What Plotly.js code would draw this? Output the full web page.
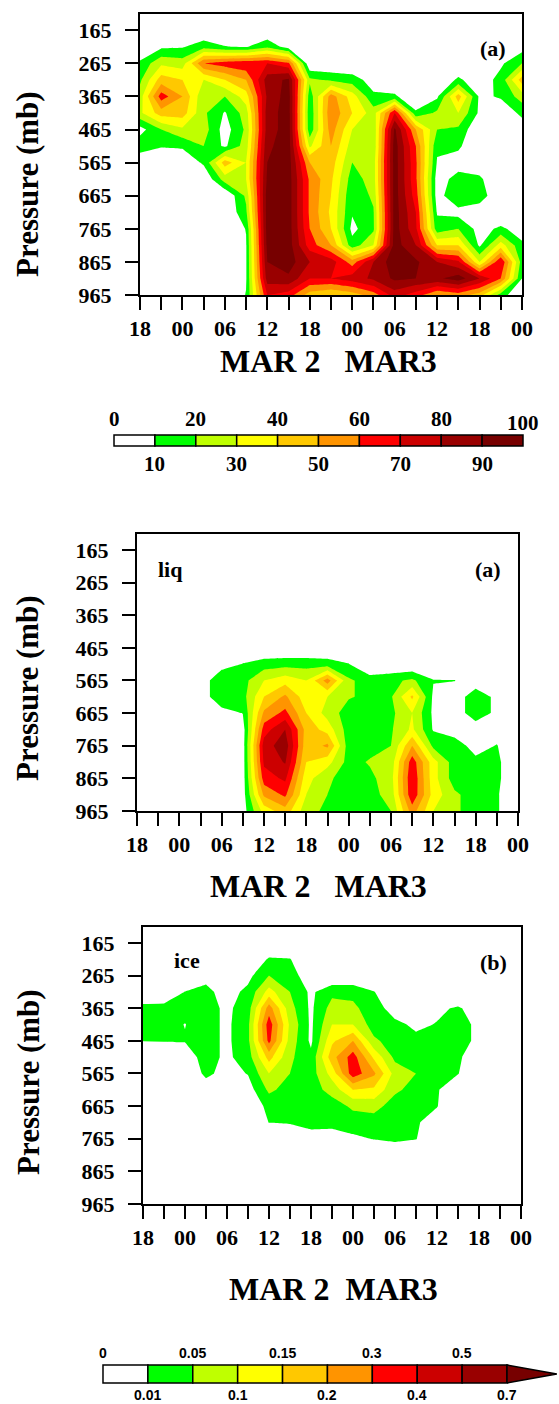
<!DOCTYPE html>
<html>
<head>
<meta charset="utf-8">
<script src="https://cdn.plot.ly/plotly-3.0.1.min.js"></script>
<style>
html,body{margin:0;padding:0;background:#fff;}
#chart{width:559px;height:1404px;}
</style>
</head>
<body>
<div id="chart"></div>
<script>
// ---------------- DATA ----------------
const hours = [0,3,6,9,12,15,18,21,24,27,30,33,36,39,42,45,48,51,54];
const timeTickText = ['18','','00','','06','','12','','18','','00','','06','','12','','18','','00'];
const pressure = [165,215,265,315,365,415,465,515,565,615,665,715,765,815,865,915,965];
const pressureTicks = [165,265,365,465,565,665,765,865,965];

const cloudLevels = [0,10,20,30,40,50,60,70,80,90,100];
const mixLevels = [0,0.01,0.05,0.1,0.15,0.2,0.3,0.4,0.5,0.7];

// cloud fraction (%), rows = pressure levels (165 -> 965), cols = hours
const cloudFraction = [
[0,0,0,0,0,0,0,0,0,0,0,0,0,0,0,0,0,0,0],
[0,8,9,16,10.5,9,18,5,0,0,0,0,0,0,0,0,0,0,5],
[12,28,25,60,65,68,70,62,0,0,0,0,0,0,0,0,0,8,20],
[18,45,40,30,40,50,85,92,22,18,15,5,0,0,0,12,3,14,45],
[25,65,50,22,20,35,82,95,14,55,35,12,12,0,8,45,8,11,25],
[28,45,45,22,9,25,85,95,12,58,40,25,70,12,22,30,8,4,12],
[6,20,28,25,5,22,85,95,13,55,30,22,92,50,20,18,0,0,5],
[17,11,12,20,8,25,88,95,28,50,25,22,95,60,12,12,0,0,0],
[0,0,0,12,45,30,90,95,50,45,20,25,95,62,9,5,3,0,0],
[0,0,0,0,25,30,92,95,58,42,15,25,95,62,5,14,12,0,0],
[0,0,0,0,0,22,95,95,58,40,12,22,95,65,5,20,16,0,0],
[0,0,0,0,0,18,95,95,58,38,11,19,95,70,9,6,3,0,0],
[0,0,0,0,0,10.5,95,95,60,40,7,18,95,72,14,20,6,12,5],
[0,0,0,0,0,9,93,95,65,50,14,30,95,80,40,40,8,35,12],
[0,0,0,0,0,9,90,95,80,75,55,80,97,92,80,72,30,70,15],
[0,0,0,0,0,9,85,88,70,70,75,82,92,90,88,95,80,60,10],
[0,0,0,0,0,10.5,70,65,45,40,45,55,75,65,50,55,45,15,0]
];

// liquid water content
const liquid = [
[0,0,0,0,0,0,0,0,0,0,0,0,0,0,0,0,0,0,0],
[0,0,0,0,0,0,0,0,0,0,0,0,0,0,0,0,0,0,0],
[0,0,0,0,0,0,0,0,0,0,0,0,0,0,0,0,0,0,0],
[0,0,0,0,0,0,0,0,0,0,0,0,0,0,0,0,0,0,0],
[0,0,0,0,0,0,0,0,0,0,0,0,0,0,0,0,0,0,0],
[0,0,0,0,0,0,0,0,0,0,0,0,0,0,0,0,0,0,0],
[0,0,0,0,0,0,0,0,0,0,0,0,0,0,0,0,0,0,0],
[0,0,0,0,0.006,0.012,0.03,0.035,0.035,0.03,0.012,0,0,0,0,0,0,0,0],
[0,0,0,0.004,0.04,0.035,0.1,0.13,0.1,0.25,0.06,0.03,0.04,0.06,0.012,0.011,0.005,0,0],
[0,0,0,0.004,0.04,0.035,0.15,0.22,0.12,0.1,0.055,0.04,0.045,0.16,0.008,0.005,0.03,0.008,0],
[0,0,0,0,0.006,0.011,0.22,0.33,0.15,0.08,0.03,0.03,0.04,0.1,0.008,0.005,0.03,0.008,0],
[0,0,0,0,0,0.005,0.35,0.5,0.18,0.13,0.03,0.03,0.045,0.11,0.009,0.005,0.005,0.005,0],
[0,0,0,0,0,0.005,0.45,0.62,0.17,0.22,0.03,0.035,0.05,0.2,0.04,0.03,0.006,0.012,0],
[0,0,0,0,0,0.005,0.42,0.52,0.15,0.12,0.035,0.055,0.07,0.36,0.12,0.03,0.02,0.02,0],
[0,0,0,0,0,0.005,0.35,0.42,0.12,0.06,0.03,0.04,0.08,0.39,0.12,0.03,0.03,0.02,0],
[0,0,0,0,0,0.005,0.22,0.32,0.1,0.05,0.035,0.035,0.07,0.38,0.13,0.06,0.03,0.015,0],
[0,0,0,0,0,0.005,0.12,0.18,0.07,0.04,0.03,0.03,0.05,0.25,0.1,0.06,0.03,0.015,0]
];

// ice water content
const ice = [
[0,0,0,0,0,0,0,0,0,0,0,0,0,0,0,0,0,0,0],
[0,0,0,0,0,0,0.015,0.012,0,0,0,0,0,0,0,0,0,0,0],
[0,0,0,0.007,0,0.007,0.05,0.03,0.003,0,0,0,0,0,0,0,0,0,0],
[0.003,0.004,0.011,0.02,0.006,0.02,0.12,0.05,0.008,0.04,0.04,0.012,0,0,0,0,0,0,0],
[0.02,0.02,0.02,0.025,0.008,0.03,0.25,0.07,0.008,0.07,0.06,0.03,0.005,0,0.008,0.015,0.005,0,0],
[0.025,0.02,0.0098,0.025,0.008,0.04,0.36,0.09,0.008,0.1,0.1,0.03,0.02,0.008,0.012,0.03,0.007,0,0],
[0.011,0.012,0.012,0.025,0.008,0.04,0.33,0.08,0.008,0.14,0.2,0.06,0.03,0.02,0.025,0.03,0.007,0,0],
[0,0,0.005,0.025,0.008,0.03,0.17,0.06,0.02,0.18,0.35,0.14,0.04,0.03,0.03,0.02,0,0,0],
[0,0,0,0.02,0.006,0.012,0.1,0.05,0.03,0.12,0.36,0.22,0.08,0.05,0.025,0.012,0,0,0],
[0,0,0,0.004,0,0.005,0.06,0.035,0.03,0.07,0.15,0.14,0.06,0.035,0.015,0,0,0,0],
[0,0,0,0,0,0,0.025,0.03,0.03,0.03,0.06,0.07,0.03,0.02,0.012,0,0,0,0],
[0,0,0,0,0,0,0.011,0.013,0.025,0.02,0.03,0.03,0.025,0.015,0.005,0,0,0,0],
[0,0,0,0,0,0,0,0.003,0.005,0.006,0.008,0.012,0.02,0.012,0,0,0,0,0],
[0,0,0,0,0,0,0,0,0,0,0,0,0,0,0,0,0,0,0],
[0,0,0,0,0,0,0,0,0,0,0,0,0,0,0,0,0,0,0],
[0,0,0,0,0,0,0,0,0,0,0,0,0,0,0,0,0,0,0],
[0,0,0,0,0,0,0,0,0,0,0,0,0,0,0,0,0,0,0]
];

// ---------------- STYLE ----------------
const palette = ['#ffffff','#00ff00','#bfff00','#ffff00','#ffc800','#ff9400','#ff0000','#cc0000','#990000','#770000'];
const colorscale = palette.map((c, i) => [i / (palette.length - 1), c]);
const serif = 'Liberation Serif';
const sans = 'Liberation Sans';
const W = 559, H = 1404;
const dX = (a, b) => [a / W, b / W];
const dY = (top, bottom) => [1 - bottom / H, 1 - top / H];
const bold = (size, family) => ({family: family || serif, size: size, color: '#000', weight: 'bold'});

// map non-uniform levels to uniform index space so contours fall on the colorbar levels
function toIndex(v) {
  const L = mixLevels;
  if (v >= L[L.length - 1]) return (L.length - 1) + (v - L[L.length - 1]) / 0.2;
  for (let k = 0; k < L.length - 1; k++) {
    if (v < L[k + 1]) return k + (v - L[k]) / (L[k + 1] - L[k]);
  }
  return L.length - 1;
}

function contourTrace(z, xa, ya, start, end, size) {
  return {
    type: 'contour', x: hours, y: pressure, z: z,
    xaxis: xa, yaxis: ya,
    autocontour: false,
    contours: {start: start, end: end, size: size, coloring: 'fill', showlines: false},
    line: {width: 0, smoothing: 0},
    colorscale: colorscale, showscale: false, hoverinfo: 'skip'
  };
}

function timeAxis(x0, x1, anchor) {
  return {
    domain: dX(x0, x1), anchor: anchor, range: [0, 54],
    tickmode: 'array', tickvals: hours, ticktext: timeTickText,
    ticks: 'outside', ticklen: 13, tickwidth: 2, tickcolor: '#000',
    showline: true, linewidth: 2, linecolor: '#000', mirror: true,
    showgrid: false, zeroline: false, tickfont: bold(22), ticklabelstandoff: 0
  };
}
function pressAxis(top, bottom, anchor) {
  return {
    domain: dY(top, bottom), anchor: anchor, range: [965, 116],
    tickmode: 'array', tickvals: pressureTicks, ticktext: pressureTicks.map(String),
    ticks: 'outside', ticklen: 13, tickwidth: 2, tickcolor: '#000',
    showline: true, linewidth: 2, linecolor: '#000', mirror: true,
    showgrid: false, zeroline: false, tickfont: bold(22), ticklabelstandoff: 9
  };
}
function hiddenAxis(range, domain, anchor) {
  return {domain: domain, anchor: anchor, range: range, visible: false, showgrid: false, zeroline: false, fixedrange: true};
}

// ---------------- TRACES ----------------
const traces = [];
traces.push(contourTrace(cloudFraction, 'x', 'y', 10, 90, 10));
traces.push(contourTrace(liquid.map(r => r.map(toIndex)), 'x2', 'y2', 1, 9, 1));
traces.push(contourTrace(ice.map(r => r.map(toIndex)), 'x3', 'y3', 1, 9, 1));

// colorbar 1 (cloud fraction): one box per interval
const cb1Idx = cloudLevels.slice(0, -1).map((v, i) => i);
traces.push({
  type: 'bar', x: cb1Idx.map(i => i + 0.5), y: cb1Idx.map(() => 1), base: 0, width: 1,
  marker: {color: cb1Idx.map(i => palette[i]), line: {color: '#000', width: 1.5}},
  xaxis: 'x4', yaxis: 'y4', hoverinfo: 'skip'
});
// colorbar 2 (liq / ice): boxes + end triangle
const cb2Idx = mixLevels.slice(0, -1).map((v, i) => i);
traces.push({
  type: 'bar', x: cb2Idx.map(i => i + 0.5), y: cb2Idx.map(() => 1), base: 0, width: 1,
  marker: {color: cb2Idx.map(i => palette[i]), line: {color: '#000', width: 1.5}},
  xaxis: 'x5', yaxis: 'y5', hoverinfo: 'skip'
});
const nBox = mixLevels.length - 1;
traces.push({
  type: 'scatter', mode: 'lines', x: [nBox, nBox + 1.11, nBox, nBox], y: [0, 0.5, 1, 0],
  fill: 'toself', fillcolor: palette[palette.length - 1], line: {color: '#000', width: 1.5},
  xaxis: 'x5', yaxis: 'y5', hoverinfo: 'skip'
});

// ---------------- ANNOTATIONS ----------------
const ann = [];
function paperText(text, xpx, ypx, font, extra) {
  ann.push(Object.assign({text: text, xref: 'paper', yref: 'paper', x: xpx / W, y: 1 - ypx / H,
    xanchor: 'center', yanchor: 'middle', showarrow: false, font: font}, extra || {}));
}
const nb = '\u00a0';
paperText('MAR 2' + nb + nb + nb + 'MAR3', 328, 361, bold(32));
paperText('MAR 2' + nb + nb + nb + 'MAR3', 318, 886, bold(32));
paperText('MAR 2' + nb + nb + 'MAR3', 333, 1289, bold(32));
paperText('Pressure (mb)', 27, 184, bold(31), {textangle: -90});
paperText('Pressure (mb)', 27, 688, bold(31), {textangle: -90});
paperText('Pressure (mb)', 28, 1082, bold(31), {textangle: -90});
paperText('(a)', 493, 49, bold(22));
paperText('liq', 170, 569, bold(22));
paperText('(a)', 488, 569, bold(22));
paperText('ice', 187, 960, bold(22));
paperText('(b)', 493, 962, bold(22));

cloudLevels.forEach((v, k) => {
  const top = k % 2 === 0;
  ann.push({text: String(v), xref: 'x4', yref: 'y4', x: k, y: top ? 1 : 0,
    xanchor: 'center', yanchor: 'middle', yshift: top ? (k === cloudLevels.length - 1 ? 12 : 16) : -18,
    showarrow: false, font: bold(21)});
});
mixLevels.forEach((v, k) => {
  const top = k % 2 === 0;
  ann.push({text: String(v), xref: 'x5', yref: 'y5', x: k, y: top ? 1 : 0,
    xanchor: 'center', yanchor: 'middle', yshift: top ? 12 : -12,
    showarrow: false, font: bold(14, sans)});
});

// ---------------- LAYOUT ----------------
const u1 = 40.9, u2 = 404 / 9;
const layout = {
  width: W, height: H, margin: {l: 0, r: 0, t: 0, b: 0},
  paper_bgcolor: '#fff', plot_bgcolor: '#fff', showlegend: false, bargap: 0,
  xaxis: timeAxis(140, 522, 'y'), yaxis: pressAxis(14, 295, 'x'),
  xaxis2: timeAxis(137, 518, 'y2'), yaxis2: pressAxis(534, 811, 'x2'),
  xaxis3: timeAxis(143, 521, 'y3'), yaxis3: pressAxis(927, 1204, 'x3'),
  xaxis4: hiddenAxis([-0.05, 10.05], dX(114 - 0.05 * u1, 114 + 10.05 * u1), 'y4'),
  yaxis4: hiddenAxis([-0.1, 1.1], dY(435 - 1.1, 446 + 1.1), 'x4'),
  xaxis5: hiddenAxis([-0.05, 10.15], dX(103 - 0.05 * u2, 103 + 10.15 * u2), 'y5'),
  yaxis5: hiddenAxis([-0.1, 1.1], dY(1365 - 1.8, 1383 + 1.8), 'x5'),
  annotations: ann
};

Plotly.newPlot('chart', traces, layout, {staticPlot: true, displayModeBar: false});
</script>
</body>
</html>
